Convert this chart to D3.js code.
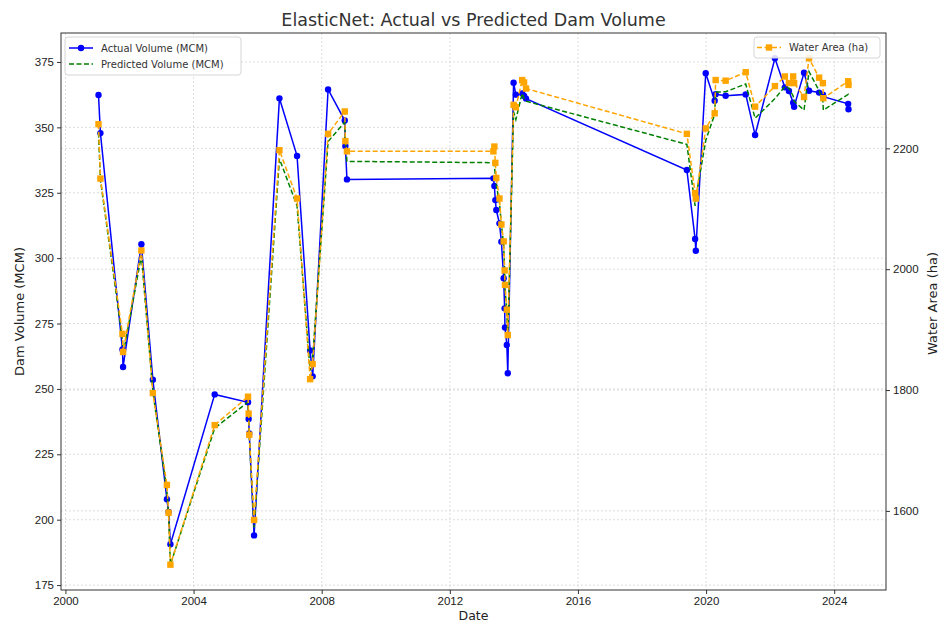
<!DOCTYPE html>
<html>
<head>
<meta charset="utf-8">
<script src="https://cdn.jsdelivr.net/npm/d3@7"></script>
<style>
  body { margin: 0; background: #fff; }
  svg { font-family: "DejaVu Sans", sans-serif; }
  .grid line { stroke: #cfcfcf; stroke-width: 0.7; stroke-dasharray: 2,2; }
  .axis text { font-size: 11.5px; fill: #222; }
  .axis path, .axis line { stroke: #333; }
</style>
</head>
<body>
<svg id="chart"></svg>
<script>
const dates = [
  "2001-01-12", "2001-02-03", "2001-10-12", "2001-10-19", "2002-05-16", "2002-09-24",
  "2003-03-03", "2003-03-22", "2003-04-12", "2004-08-29", "2005-09-13", "2005-09-20",
  "2005-09-27", "2005-11-21", "2006-09-06", "2007-03-26", "2007-08-22", "2007-09-20",
  "2008-03-14", "2008-09-20", "2008-09-27", "2008-10-15", "2013-05-12", "2013-05-23",
  "2013-06-03", "2013-06-14", "2013-07-20", "2013-08-11", "2013-09-06", "2013-09-17",
  "2013-09-21", "2013-10-12", "2013-10-23", "2013-12-28", "2014-01-23", "2014-04-05",
  "2014-04-27", "2014-05-19", "2019-05-27", "2019-08-29", "2019-09-06", "2019-12-28",
  "2020-04-08", "2020-04-19", "2020-08-11", "2021-03-28", "2021-07-13", "2022-02-24",
  "2022-06-17", "2022-08-03", "2022-09-20", "2022-10-01", "2023-01-22", "2023-03-20",
  "2023-07-13", "2023-08-25", "2023-08-30", "2024-06-08", "2024-06-12",
];

const actualVolume = [
  362.4, 347.8, 265.1, 258.4, 305.3, 253.5, 207.8, 203.0, 190.6, 247.9, 244.9, 238.5,
  233.0, 194.0, 361.1, 339.1, 264.7, 254.8, 364.5, 352.6, 342.9, 330.1, 330.5, 327.6,
  322.2, 318.4, 313.3, 306.3, 292.3, 280.8, 273.5, 266.8, 256.0, 367.1, 362.5, 363.0,
  362.0, 361.0, 333.7, 307.3, 302.8, 370.7, 360.2, 362.7, 362.1, 362.6, 347.1, 376.4,
  365.3, 363.9, 359.4, 357.9, 370.9, 364.0, 363.3, 362.5, 361.7, 359.0, 356.9,
];

const predictedVolume = [
  348.0, 330.0, 269.0, 263.0, 301.0, 249.0, 211.0, 202.0, 182.8, 235.0, 245.0, 239.0,
  232.0, 197.0, 338.0, 320.0, 257.0, 262.0, 344.6, 352.0, 345.0, 337.0, 336.5, 335.0,
  332.0, 328.0, 321.0, 313.0, 305.0, 295.0, 289.0, 279.0, 269.0, 356.0, 353.0, 363.0,
  361.0, 360.0, 343.5, 320.0, 323.0, 345.0, 355.0, 363.5, 363.6, 366.6, 353.5, 361.0,
  365.6, 365.0, 362.0, 360.0, 356.6, 371.3, 364.0, 360.0, 356.6, 362.6, 362.0,
];

const waterArea = [
  2240, 2150, 1893, 1863, 2031, 1795, 1643, 1597, 1511, 1742, 1789, 1761,
  1726, 1585, 2197, 2117, 1818, 1843, 2224, 2261, 2212, 2195, 2195, 2203,
  2176, 2151, 2117, 2074, 2046, 1998, 1974, 1933, 1891, 2272, 2268, 2313,
  2309, 2299, 2224, 2126, 2117, 2233, 2258, 2313, 2312, 2326, 2269, 2303,
  2319, 2308, 2319, 2308, 2285, 2349, 2317, 2308, 2283, 2311, 2305,
];

const volumeTicks = [175, 200, 225, 250, 275, 300, 325, 350, 375];
const areaTicks = [1600, 1800, 2000, 2200];

const width = 939;
const height = 622;
const margin = { top: 33, right: 53, bottom: 32, left: 61 };

const rows = dates.map((d, i) => ({
  date: new Date(d + "T00:00:00Z"),
  actual: actualVolume[i],
  predicted: predictedVolume[i],
  area: waterArea[i],
}));

// matplotlib style 5% padding
function padded(extent) {
  const pad = (extent[1] - extent[0]) * 0.05;
  return [extent[0] - pad, extent[1] + pad];
}

const tExtent = d3.extent(rows, (d) => +d.date);
const tPad = (tExtent[1] - tExtent[0]) * 0.05;

const x = d3
  .scaleUtc()
  .domain([new Date(tExtent[0] - tPad), new Date(tExtent[1] + tPad)])
  .range([margin.left, width - margin.right]);

const yLeft = d3
  .scaleLinear()
  .domain(padded(d3.extent(actualVolume.concat(predictedVolume))))
  .range([height - margin.bottom, margin.top]);

const yRight = d3
  .scaleLinear()
  .domain(padded(d3.extent(waterArea)))
  .range([height - margin.bottom, margin.top]);

const svg = d3.select("#chart").attr("width", width).attr("height", height);

const x0 = margin.left;
const x1 = width - margin.right;
const y0 = height - margin.bottom;
const y1 = margin.top;

// grid lines
const grid = svg.append("g").attr("class", "grid");
grid
  .selectAll(".gx")
  .data(x.ticks(d3.utcYear.every(4)))
  .enter()
  .append("line")
  .attr("x1", (d) => x(d))
  .attr("x2", (d) => x(d))
  .attr("y1", y1)
  .attr("y2", y0);
grid
  .selectAll(".gl")
  .data(volumeTicks)
  .enter()
  .append("line")
  .attr("x1", x0)
  .attr("x2", x1)
  .attr("y1", (d) => yLeft(d))
  .attr("y2", (d) => yLeft(d));
grid
  .selectAll(".gr")
  .data(areaTicks)
  .enter()
  .append("line")
  .attr("x1", x0)
  .attr("x2", x1)
  .attr("y1", (d) => yRight(d))
  .attr("y2", (d) => yRight(d));

// axes
svg
  .append("g")
  .attr("class", "axis")
  .attr("transform", `translate(0,${y0})`)
  .call(d3.axisBottom(x).ticks(d3.utcYear.every(4)).tickFormat(d3.utcFormat("%Y")).tickSize(4).tickPadding(3))
  .call((g) => g.select(".domain").remove());

svg
  .append("g")
  .attr("class", "axis")
  .attr("transform", `translate(${x0},0)`)
  .call(d3.axisLeft(yLeft).tickValues(volumeTicks).tickSize(4).tickPadding(3))
  .call((g) => g.select(".domain").remove());

svg
  .append("g")
  .attr("class", "axis")
  .attr("transform", `translate(${x1},0)`)
  .call(d3.axisRight(yRight).tickValues(areaTicks).tickFormat(d3.format("d")).tickSize(4).tickPadding(3))
  .call((g) => g.select(".domain").remove());

// clip to plot area
svg
  .append("clipPath")
  .attr("id", "plot")
  .append("rect")
  .attr("x", x0)
  .attr("y", y1)
  .attr("width", x1 - x0)
  .attr("height", y0 - y1);

const plot = svg.append("g").attr("clip-path", "url(#plot)");

const lineActual = d3.line().x((d) => x(d.date)).y((d) => yLeft(d.actual));
const linePred = d3.line().x((d) => x(d.date)).y((d) => yLeft(d.predicted));
const lineArea = d3.line().x((d) => x(d.date)).y((d) => yRight(d.area));

plot
  .append("path")
  .datum(rows)
  .attr("d", lineActual)
  .attr("fill", "none")
  .attr("stroke", "#0000ff")
  .attr("stroke-width", 1.5);

plot
  .selectAll(".dot")
  .data(rows)
  .enter()
  .append("circle")
  .attr("cx", (d) => x(d.date))
  .attr("cy", (d) => yLeft(d.actual))
  .attr("r", 3.2)
  .attr("fill", "#0000ff");

plot
  .append("path")
  .datum(rows)
  .attr("d", linePred)
  .attr("fill", "none")
  .attr("stroke", "#008000")
  .attr("stroke-width", 1.5)
  .attr("stroke-dasharray", "5,2.5");

// water area on twin axis (drawn on top)
plot
  .append("path")
  .datum(rows)
  .attr("d", lineArea)
  .attr("fill", "none")
  .attr("stroke", "#ffa500")
  .attr("stroke-width", 1.5)
  .attr("stroke-dasharray", "5,2.5");

plot
  .selectAll(".sq")
  .data(rows)
  .enter()
  .append("rect")
  .attr("x", (d) => x(d.date) - 3.2)
  .attr("y", (d) => yRight(d.area) - 3.2)
  .attr("width", 6.4)
  .attr("height", 6.4)
  .attr("fill", "#ffa500");

// frame
svg
  .append("rect")
  .attr("x", x0)
  .attr("y", y1)
  .attr("width", x1 - x0)
  .attr("height", y0 - y1)
  .attr("fill", "none")
  .attr("stroke", "#333")
  .attr("stroke-width", 1);

// title and labels
svg
  .append("text")
  .attr("x", (x0 + x1) / 2)
  .attr("y", 26)
  .attr("text-anchor", "middle")
  .style("font-size", "17.5px")
  .style("fill", "#333")
  .text("ElasticNet: Actual vs Predicted Dam Volume");

svg
  .append("text")
  .attr("x", (x0 + x1) / 2)
  .attr("y", 620)
  .attr("text-anchor", "middle")
  .style("font-size", "12.5px")
  .style("fill", "#222")
  .text("Date");

svg
  .append("text")
  .attr("transform", `translate(24,${(y0 + y1) / 2}) rotate(-90)`)
  .attr("text-anchor", "middle")
  .style("font-size", "13px")
  .style("fill", "#222")
  .text("Dam Volume (MCM)");

svg
  .append("text")
  .attr("transform", `translate(937,${(y0 + y1) / 2 - 8}) rotate(-90)`)
  .attr("text-anchor", "middle")
  .style("font-size", "13px")
  .style("fill", "#222")
  .text("Water Area (ha)");

// legends
function legendBox(g, bx, by, bw, bh) {
  g.append("rect")
    .attr("x", bx)
    .attr("y", by)
    .attr("width", bw)
    .attr("height", bh)
    .attr("rx", 3)
    .attr("fill", "#fff")
    .attr("fill-opacity", 0.85)
    .attr("stroke", "#d6d6d6");
}

const legLeft = svg.append("g");
legendBox(legLeft, 65, 37, 176, 38);
legLeft.append("line").attr("x1", 69).attr("x2", 93).attr("y1", 48).attr("y2", 48)
  .attr("stroke", "#0000ff").attr("stroke-width", 1.5);
legLeft.append("circle").attr("cx", 81).attr("cy", 48).attr("r", 3.2).attr("fill", "#0000ff");
legLeft.append("line").attr("x1", 69).attr("x2", 93).attr("y1", 64).attr("y2", 64)
  .attr("stroke", "#008000").attr("stroke-width", 1.5).attr("stroke-dasharray", "5,2.5");
legLeft.append("text").attr("x", 101).attr("y", 51.5).style("font-size", "10px").style("fill", "#333")
  .text("Actual Volume (MCM)");
legLeft.append("text").attr("x", 101).attr("y", 67.5).style("font-size", "10px").style("fill", "#333")
  .text("Predicted Volume (MCM)");

const legRight = svg.append("g");
legendBox(legRight, 754, 37, 126, 21);
legRight.append("line").attr("x1", 757).attr("x2", 781).attr("y1", 47.5).attr("y2", 47.5)
  .attr("stroke", "#ffa500").attr("stroke-width", 1.5).attr("stroke-dasharray", "5,2.5");
legRight.append("rect").attr("x", 765.8).attr("y", 44.3).attr("width", 6.4).attr("height", 6.4).attr("fill", "#ffa500");
legRight.append("text").attr("x", 789).attr("y", 51).style("font-size", "10px").style("fill", "#333")
  .text("Water Area (ha)");
</script>
</body>
</html>
